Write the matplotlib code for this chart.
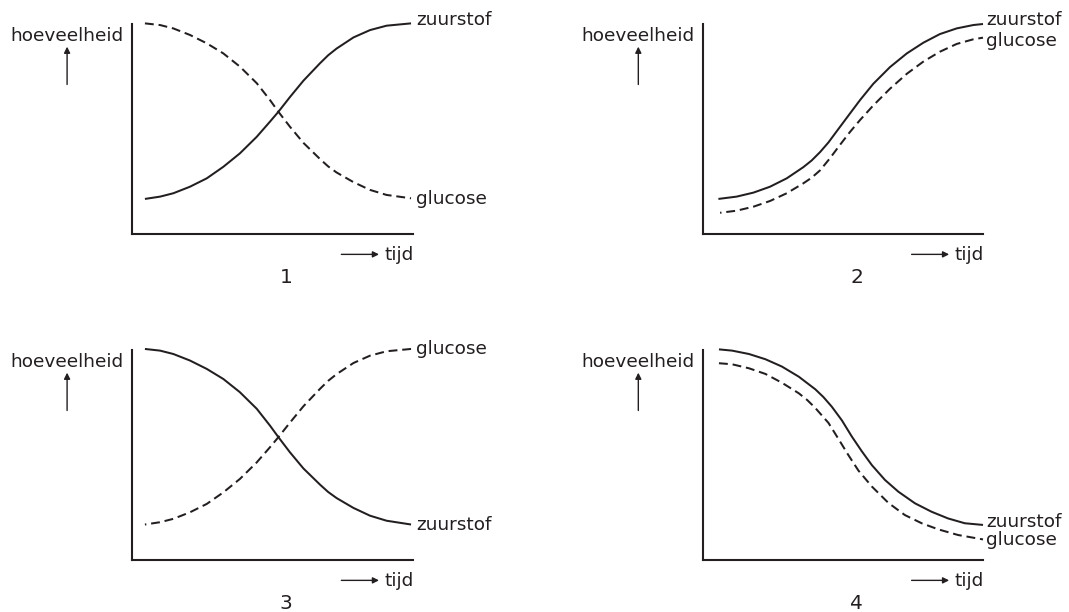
import matplotlib
matplotlib.use("Agg")
import matplotlib.pyplot as plt

plt.rcParams['font.family'] = ['DejaVu Sans']

INK = '#231f20'

# ---- data (time 0..100, amount 0..100) ----
# Panel 1
t1_z = [4.6, 10.0, 14.7, 20.6, 26.6, 32.5, 38.4, 44.4, 49.1, 52.1, 56.2, 61.0, 66.9, 69.8, 72.8, 78.8, 84.7, 90.6, 99.3]
z1 = [16.7, 17.8, 19.4, 22.5, 26.5, 32.0, 38.4, 46.3, 53.5, 58.2, 65.2, 73.0, 81.3, 85.1, 88.3, 93.6, 97.1, 99.2, 100.3]
t1_g = [4.6, 10.0, 14.7, 20.6, 26.6, 32.5, 38.4, 44.4, 49.1, 52.1, 56.2, 61.0, 66.9, 69.8, 72.8, 78.8, 84.7, 90.6, 99.3]
g1 = [100.3, 99.5, 97.9, 94.8, 90.8, 86.0, 79.7, 71.8, 63.8, 58.2, 51.1, 43.4, 35.7, 32.2, 29.3, 24.7, 21.0, 18.6, 17.0]

# Panel 2
t2_z = [5.5, 12.0, 18.0, 23.9, 29.9, 35.8, 38.8, 41.8, 44.8, 47.8, 52.5, 56.1, 60.8, 66.8, 72.8, 78.7, 84.6, 90.6, 96.5, 100.0]
z2 = [16.7, 17.8, 19.7, 22.5, 26.5, 31.8, 35.0, 39.0, 43.6, 49.0, 57.4, 63.8, 71.5, 79.5, 86.0, 91.1, 95.2, 97.9, 99.5, 100.0]
t2_g = [6.1, 12.0, 18.0, 23.9, 29.9, 35.8, 38.8, 41.8, 45.3, 48.9, 52.5, 56.1, 60.8, 66.8, 72.8, 78.7, 84.6, 90.6, 96.5, 100.0]
g2 = [10.1, 11.1, 13.0, 15.7, 19.4, 24.1, 26.8, 30.3, 36.0, 42.4, 48.6, 54.3, 61.2, 69.2, 76.3, 82.1, 86.8, 90.5, 92.7, 93.5]

# Panel 3
t3_z = [4.6, 10.0, 14.7, 20.6, 26.6, 32.5, 38.4, 44.4, 49.1, 52.1, 56.2, 61.0, 66.9, 69.8, 72.8, 78.8, 84.7, 90.6, 99.3]
z3 = [100.5, 99.7, 98.1, 95.0, 91.0, 86.2, 79.9, 72.0, 64.0, 58.5, 51.3, 43.6, 35.9, 32.4, 29.5, 24.8, 21.1, 18.7, 16.9]
t3_g = [4.6, 10.0, 14.7, 20.6, 26.6, 32.5, 38.4, 44.4, 49.1, 52.1, 56.2, 61.0, 66.9, 69.8, 72.8, 78.8, 84.7, 90.6, 99.3]
g3 = [16.9, 18.0, 19.6, 22.7, 26.7, 32.2, 38.6, 46.5, 53.7, 58.5, 65.4, 73.2, 81.5, 85.3, 88.5, 93.8, 97.3, 99.4, 100.5]

# Panel 4
t4_z = [5.7, 10.4, 16.4, 22.3, 28.2, 34.2, 40.1, 43.0, 46.0, 49.6, 53.1, 56.7, 60.3, 65.0, 69.8, 75.7, 81.6, 87.5, 93.5, 100.0]
z4 = [100.3, 99.7, 98.1, 95.6, 92.1, 87.3, 81.3, 77.6, 73.0, 66.5, 58.9, 51.8, 45.2, 38.1, 32.5, 27.0, 23.0, 19.8, 17.5, 16.7]
t4_g = [5.7, 10.4, 16.4, 22.3, 28.2, 34.2, 37.2, 40.1, 44.8, 48.4, 51.9, 55.5, 60.3, 66.2, 72.1, 78.1, 84.0, 91.1, 100.0]
g4 = [93.7, 93.2, 91.3, 88.6, 84.4, 79.4, 76.2, 72.4, 65.3, 57.6, 50.0, 42.6, 35.0, 27.2, 21.4, 17.5, 14.6, 11.9, 9.8]

zuurstof_label = 'zuurstof'
glucose_label = 'glucose'
y_label = 'hoeveelheid'
x_label = 'tijd'
panel_numbers = ['1', '2', '3', '4']

panels = [
    (t1_z, z1, t1_g, g1),
    (t2_z, z2, t2_g, g2),
    (t3_z, z3, t3_g, g3),
    (t4_z, z4, t4_g, g4),
]

W, H = 1069, 612
fig = plt.figure(figsize=(W / 100, H / 100), dpi=100)

# axes rectangles in pixels: (left, top, right, bottom)
rects = [(132, 24, 413, 234), (703, 24, 983, 234), (132, 350, 413, 560), (703, 350, 983, 560)]

# label y positions (data units) for curve-end labels
label_pos = [
    [(zuurstof_label, 101.9), (glucose_label, 16.7)],
    [(zuurstof_label, 102.0), (glucose_label, 92.0)],
    [(glucose_label, 100.3), (zuurstof_label, 16.5)],
    [(zuurstof_label, 18.2), (glucose_label, 9.6)],
]
# dash start offsets: panels 2 and 3 begin with a short dot
dash_offsets = [0.0, 3.7, 3.7, 0.0]

FS = 13.3
lw_curve = 1.45

for i, (rect, data) in enumerate(zip(rects, panels)):
    l, t, r, b = rect
    ax = fig.add_axes([l / W, 1 - b / H, (r - l) / W, (b - t) / H])
    ax.set_xlim(0, 100)
    ax.set_ylim(0, 100)
    for s in ['top', 'right']:
        ax.spines[s].set_visible(False)
    for s in ['left', 'bottom']:
        ax.spines[s].set_linewidth(1.5)
        ax.spines[s].set_color(INK)
    ax.set_xticks([])
    ax.set_yticks([])
    ax.patch.set_alpha(0)

    tz, zz, tg, gg = data
    ax.plot(tz, zz, color=INK, lw=lw_curve, clip_on=False, solid_capstyle='butt',
            solid_joinstyle='round')
    ax.plot(tg, gg, color=INK, lw=lw_curve, clip_on=False,
            linestyle=(dash_offsets[i], (4.4, 2.4)))

    for txt, yv in label_pos[i]:
        ax.text(101.2, yv, txt, fontsize=FS, color=INK, ha='left', va='center',
                clip_on=False)

    # y label + up arrow
    ax.text(-0.032, 0.92, y_label, transform=ax.transAxes, fontsize=FS, color=INK,
            ha='right', va='baseline')
    ax.annotate('', xy=(-0.231, 0.892), xytext=(-0.231, 0.712), xycoords='axes fraction',
                textcoords='axes fraction', annotation_clip=False,
                arrowprops=dict(arrowstyle='-|>', lw=1.0, color=INK, mutation_scale=9,
                                shrinkA=0, shrinkB=0))
    # x label + right arrow
    ax.annotate('', xy=(0.879, -0.097), xytext=(0.745, -0.097), xycoords='axes fraction',
                textcoords='axes fraction', annotation_clip=False,
                arrowprops=dict(arrowstyle='-|>', lw=1.0, color=INK, mutation_scale=9,
                                shrinkA=0, shrinkB=0))
    ax.text(0.897, -0.124, x_label, transform=ax.transAxes, fontsize=FS, color=INK,
            ha='left', va='baseline')
    # panel number
    ax.text(0.548, -0.233, panel_numbers[i], transform=ax.transAxes, fontsize=14.5,
            color=INK, ha='center', va='baseline')

fig.savefig('out.png', dpi=100, facecolor='white')
